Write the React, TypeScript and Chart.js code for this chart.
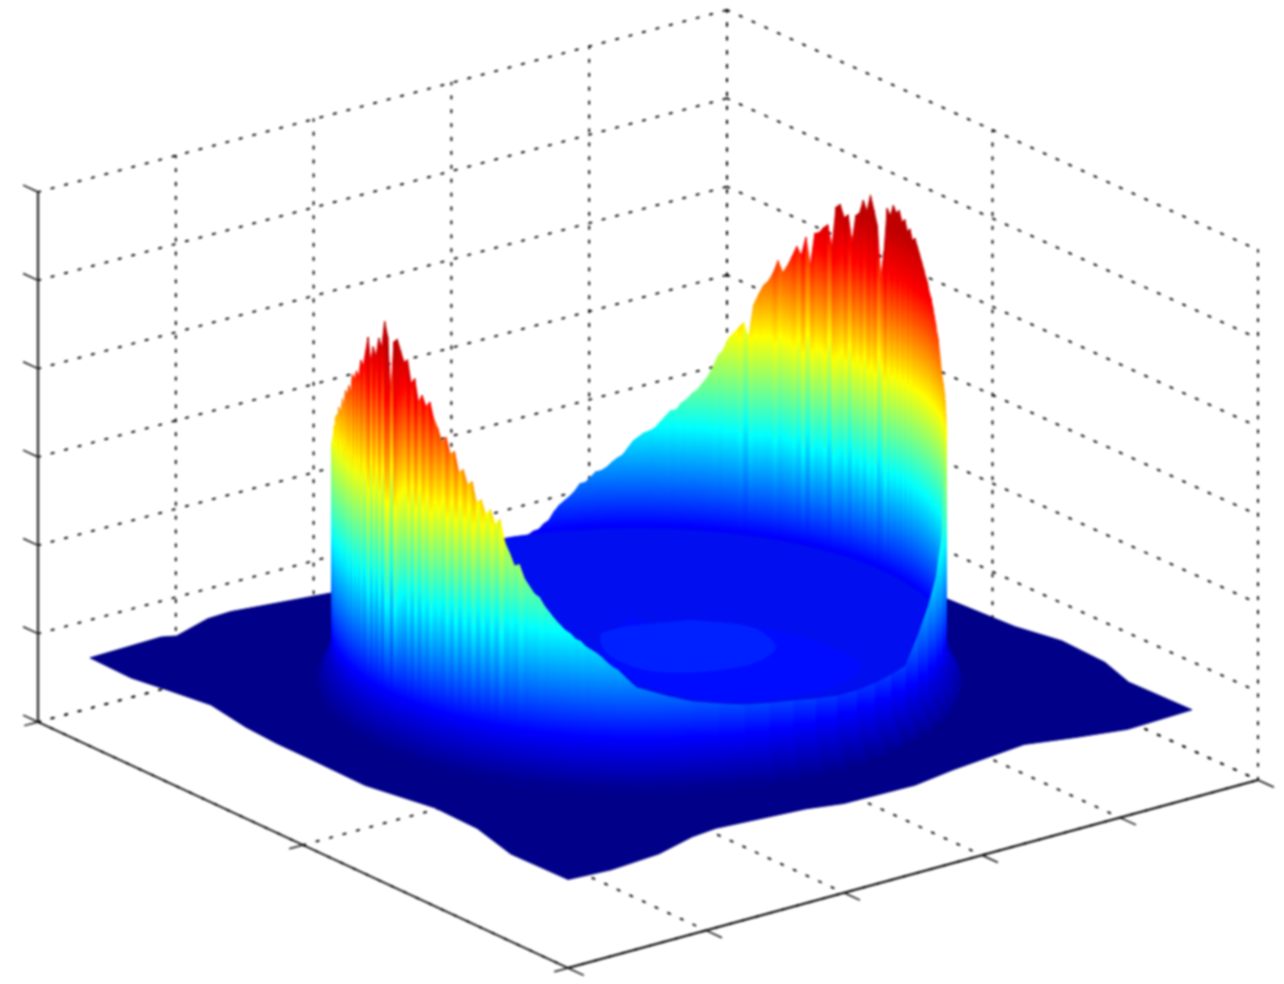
import React, { useEffect, useRef } from "react";
import { Chart, registerables } from "chart.js";

Chart.register(...registerables);

// ---- axis ticks of the 3-D box (fractions of each axis)
const xTicks = [0, 0.5, 1];
const yTicks = [0, 0.2, 0.4, 0.6, 0.8, 1];
const zTicks = [0, 1 / 6, 2 / 6, 3 / 6, 4 / 6, 5 / 6, 1];

// ---- plate outline: position along the edge and its rise above the flat plate
const plateLeftFrontS = [0, 0.086, 0.165, 0.253, 0.326, 0.391, 0.456, 0.575, 0.722, 0.81, 0.88, 1];
const plateLeftFrontRise = [0, -1, 4, 9, 3, 1, 1, 0, 10, 9, -1, 0];
const plateFrontRightS = [0.069, 0.146, 0.199, 0.237, 0.381, 0.442, 0.556, 0.617, 0.731, 0.814, 0.897, 1];
const plateFrontRightRise = [-2, 1, 9, 11, 6, 1, 0, 5, 11, 4, -2, 0];
const plateBackRightS = [0.868, 0.818, 0.728, 0.63, 0.487, 0];
const plateBackRightRise = [-1, 8, 10, 3, 0, 0];
const plateBackLeftS = [0.391, 0.226, 0.189, 0.139, 0.114];
const plateBackLeftRise = [1, 9, 8, -1, 2];

// ---- crest height of the ring, one value per degree from 0 to 120 (back wall)
const backWallHeights = [
  250, 245, 255, 262, 268, 272, 276, 280, 283, 286, 292, 300, 308, 318, 322, 330, 336, 343, 350, 354,
  362, 366, 372, 378, 384, 390, 396, 392, 402, 398, 408, 404, 414, 410, 416, 404, 410, 365, 337, 388,
  402, 416, 398, 408, 394, 390, 362, 388, 384, 396, 392, 351, 372, 368, 362, 360, 327, 354, 335, 343,
  332, 322, 314, 325, 312, 303, 298, 288, 277, 243, 258, 252, 246, 240, 228, 222, 210, 200, 193, 186,
  182, 176, 172, 165, 164, 158, 152, 146, 143, 141, 137, 133, 126, 119, 116, 112, 107, 104, 103, 98,
  93, 92, 85, 80, 76, 72, 66, 58, 55, 50, 49, 46, 44, 43, 42, 42, 42, 40, 40, 38, 38,
];
// every 5 degrees from 120 to 180 (hidden behind the left lobe)
const backLeftHeights = [38, 38, 40, 45, 50, 60, 70, 85, 100, 120, 150, 190, 235];
// one value per degree from 180 to 290 (left lobe, seen from outside)
const leftLobeHeights = [
  235, 238, 243, 240, 250, 254, 258, 268, 263, 280, 285, 279, 296, 290, 297, 310, 303, 322, 318, 330,
  325, 345, 342, 352, 348, 366, 362, 378, 394, 372, 388, 380, 400, 392, 420, 406, 352, 404, 408, 398,
  388, 392, 370, 376, 354, 362, 352, 358, 342, 334, 322, 328, 312, 316, 296, 300, 286, 290, 270, 274,
  260, 266, 252, 258, 236, 226, 214, 216, 203, 196, 189, 186, 178, 172, 166, 161, 156, 153, 148, 146,
  141, 138, 135, 131, 126, 122, 119, 114, 109, 104, 99, 95, 91, 87, 83, 78, 74, 70, 65, 62,
  60, 57, 54, 51, 48, 45, 42, 38, 34, 30, 26,
];
// every 5 degrees from 260 to 360 (low front rim)
const frontRimHeights = [110, 105, 101, 93, 86, 82, 78, 76, 74, 71, 68, 67, 67, 68, 69, 90, 110, 130, 160, 210, 250];

// ---- floor of the dish inside the ring
const dishLevel = 46;
const dishAngles = [0, 30, 60, 90, 120, 150, 180, 210, 240, 270, 300, 330];
const dishReach = [1, 1, 1, 1, 1, 1, 1, 1, 1, 1, 1, 1];
const patchAngles = [101, 15, 22, 1, 340, 323, 296, 271, 233];
const patchReach = [0.167, 0.135, 0.27, 0.49, 0.765, 0.79, 0.67, 0.445, 0.21];
const patchValue = 54;
const coreAngles = [40, 10, 345, 320, 280, 240, 170];
const coreReach = [0.22, 0.38, 0.46, 0.44, 0.34, 0.2, 0.12];
const coreValue = 62;

const PLATE_X0 = 0.05, PLATE_X1 = 0.952, PLATE_Y0 = 0.037, PLATE_Y1 = 0.9413, PLATE_Z = 0.1315;
const RING_X = 0.49, RING_Y = 0.495, RING_R = 0.353, RING_TURN = 52.5;
const LOBE_TOP = 410;
const WALL_TOP = 395;
const DISH_COLOR = "rgb(0,14,240)";
const DEG = Math.PI / 180;

type P = { x: number; y: number };
const project = (x: number, y: number, z: number): P => ({
  x: 38 + 530 * x + (689 + x) * y,
  y: 722 + 246 * x - (182 + 6 * x) * y - 530 * z,
});
const ring = (phi: number, reach: number, h: number): P =>
  project(
    RING_X + reach * RING_R * Math.cos((phi + RING_TURN) * DEG),
    RING_Y + reach * RING_R * Math.sin((phi + RING_TURN) * DEG),
    PLATE_Z + h / 530,
  );

const JET: [number, string, number][] = [
  [0, "rgb(0,0,143)", 0],
  [0.125, "rgb(0,0,255)", 0],
  [0.375, "rgb(0,255,255)", 1],
  [0.625, "rgb(255,255,0)", 1],
  [0.875, "rgb(255,0,0)", 1],
  [1, "rgb(190,0,0)", 1],
];
const jetAt = (t: number) => {
  const u = Math.max(0, Math.min(1, t));
  const r = Math.min(4 * u - 1.5, 4.5 - 4 * u);
  const g = Math.min(4 * u - 0.5, 3.5 - 4 * u);
  const b = Math.min(4 * u + 0.5, 2.5 - 4 * u);
  const c = (v: number) => Math.round(255 * Math.max(0, Math.min(1, v)));
  return `rgb(${c(r)},${c(g)},${c(b)})`;
};

// paint running through the jet map between the y of height 0 and the y of the top height;
// "shift" moves the upper colours only, so a spike leaves a streak that fades out at the foot
const jetPaint = (yLow: number, yTop: number, shift = 0) => {
  let cached: CanvasGradient | null = null;
  return (c: any) => {
    if (cached) return cached;
    const s = c.chart.scales.y;
    const ready = s && Number.isFinite(s.getPixelForValue(yLow));
    const a = ready ? s.getPixelForValue(yLow) : yLow;
    const b = ready ? s.getPixelForValue(yTop) : yTop;
    const g = c.chart.ctx.createLinearGradient(0, a, 0, b);
    const relative = shift / (yTop - yLow);
    JET.forEach(([t, col, moves]) => g.addColorStop(Math.max(0, Math.min(1, t + moves * relative)), col));
    cached = g;
    return g;
  };
};

function buildDatasets() {
  const sets: any[] = [];
  const line = (pts: P[], color: string, width: number, dash: number[] = []) =>
    sets.push({
      data: pts, showLine: true, fill: false, borderColor: color, borderWidth: width, borderDash: dash,
      pointRadius: 0, tension: 0, borderCapStyle: dash.length ? "round" : "butt",
    });
  const poly = (pts: P[], paint: any, tension = 0) =>
    sets.push({
      data: [...pts, pts[0]], showLine: true, fill: "shape", backgroundColor: paint, borderColor: paint,
      borderWidth: 0.9, pointRadius: 0, tension, borderJoinStyle: "round",
    });

  // ---- dotted box grid
  const DOTS = [2.4, 11.5];
  const GRID = "#000";
  zTicks.forEach((z) => {
    line([project(0, 0, z), project(0, 1, z)], GRID, 1.9, DOTS);
    line([project(0, 1, z), project(1, 1, z)], GRID, 1.9, DOTS);
  });
  yTicks.forEach((y) => {
    line([project(0, y, 0), project(0, y, 1)], GRID, 1.9, DOTS);
    line([project(0, y, 0), project(1, y, 0)], GRID, 1.9, DOTS);
  });
  xTicks.forEach((x) => {
    line([project(x, 1, 0), project(x, 1, 1)], GRID, 1.9, DOTS);
    line([project(x, 0, 0), project(x, 1, 0)], GRID, 1.9, DOTS);
  });

  // ---- solid axes and ticks
  line([project(0, 0, 0), project(0, 0, 1)], "#333", 2.4);
  line([project(0, 0, 0), project(1, 0, 0)], "#000", 1.9);
  line([project(1, 0, 0), project(1, 1, 0)], "#000", 1.9);
  zTicks.forEach((z) => line([project(0, 0, z), project(-0.028, 0, z)], "#111", 1.5));
  xTicks.forEach((x) => line([project(x, 0, 0), project(x, -0.02, 0)], "#111", 1.5));
  yTicks.forEach((y) => line([project(1, y, 0), project(1.03, y, 0)], "#111", 1.5));

  // ---- plate
  const outline: P[] = [];
  plateLeftFrontS.forEach((s, i) =>
    outline.push(project(PLATE_X0 + s * (PLATE_X1 - PLATE_X0), PLATE_Y0, PLATE_Z + plateLeftFrontRise[i] / 530)));
  plateFrontRightS.forEach((s, i) =>
    outline.push(project(PLATE_X1, PLATE_Y0 + s * (PLATE_Y1 - PLATE_Y0), PLATE_Z + plateFrontRightRise[i] / 530)));
  plateBackRightS.forEach((s, i) =>
    outline.push(project(PLATE_X0 + s * (PLATE_X1 - PLATE_X0), PLATE_Y1, PLATE_Z + plateBackRightRise[i] / 530)));
  plateBackLeftS.forEach((s, i) =>
    outline.push(project(PLATE_X0, PLATE_Y0 + s * (PLATE_Y1 - PLATE_Y0), PLATE_Z + plateBackLeftRise[i] / 530)));
  poly(outline, jetAt(0.008));

  // ---- the blue skirt at the foot of the ring
  const skirt: number[] = [];
  for (let a = 0; a < 360; a += 5) skirt.push(a);
  skirt.forEach((a) => {
    const b = a + 5;
    const y0 = ring(a, 1, 0).y;
    poly(
      [ring(a, 1.05, 0), ring(b, 1.05, 0), ring(b, 1, 32), ring(a, 1, 32)],
      jetPaint(y0 + 3, y0 + 3 - LOBE_TOP),
    );
  });

  // ---- dish floor, then the inner faces of the wall: upright columns, far ones first
  poly(dishAngles.flatMap((a, i) => {
    const b = dishAngles[(i + 1) % dishAngles.length];
    const span = b > a ? b - a : b + 360 - a;
    return [0, 0.2, 0.4, 0.6, 0.8].map((f) => ring(a + span * f, dishReach[i], dishLevel));
  }), DISH_COLOR);

  type S = { phi: number; next: number; h: number; hn: number; spike: number };
  const spikeOf = (arr: number[], i: number) => {
    const l = arr[Math.max(0, i - 1)];
    const r = arr[Math.min(arr.length - 1, i + 1)];
    return arr[i] - (l + r) / 2;
  };
  const inner: S[] = [];
  backWallHeights.slice(0, -1).forEach((h, i) =>
    inner.push({ phi: i, next: i + 1, h, hn: backWallHeights[i + 1], spike: spikeOf(backWallHeights, i) }));
  backLeftHeights.slice(0, -1).forEach((h, i) =>
    inner.push({ phi: 120 + 5 * i, next: 125 + 5 * i, h, hn: backLeftHeights[i + 1], spike: 0 }));
  inner.sort((a, b) => Math.sin(b.phi * DEG) - Math.sin(a.phi * DEG));
  inner.forEach((s) => {
    if (s.h <= dishLevel && s.hn <= dishLevel) return;
    const y0 = ring(s.phi, 1, 0).y;
    const shift = Math.max(-14, Math.min(14, 0.4 * s.spike));
    poly(
      [ring(s.phi, 1, dishLevel), ring(s.next, 1, dishLevel), ring(s.next, 1, s.hn), ring(s.phi, 1, s.h)],
      jetPaint(y0, y0 - WALL_TOP, shift),
    );
  });

  // ---- lighter patches on the dish
  poly(patchAngles.map((a, i) => ring(a, patchReach[i], dishLevel)), jetAt(patchValue / WALL_TOP), 0.35);
  poly(coreAngles.map((a, i) => ring(a, coreReach[i], dishLevel)), jetAt(coreValue / WALL_TOP), 0.35);

  // ---- outer faces: the low front rim from the right, then the left lobe
  const rimPhi = (i: number) => 260 + 5 * i;
  const outerFace = (phi: number, next: number, h: number, hn: number, shift: number) => {
    const y0 = ring(phi, 1, 0).y;
    const knee = Math.min(h * 0.6, 30);
    const kneeN = Math.min(hn * 0.6, 30);
    poly(
      [
        ring(phi, 1.05, 0), ring(next, 1.05, 0), ring(next, 1, kneeN), ring(next, 1, hn),
        ring(phi, 1, h), ring(phi, 1, knee),
      ],
      jetPaint(y0, y0 - LOBE_TOP, shift),
    );
  };
  for (let i = frontRimHeights.length - 2; i >= 0; i--) {
    outerFace(rimPhi(i), rimPhi(i + 1), frontRimHeights[i], frontRimHeights[i + 1], 0);
  }
  leftLobeHeights.slice(0, -1).forEach((h, i) =>
    outerFace(180 + i, 181 + i, h, leftLobeHeights[i + 1],
      Math.max(-22, Math.min(22, 0.8 * spikeOf(leftLobeHeights, i)))));

  // Chart.js paints the first dataset last, so the list runs front to back.
  return sets.reverse();
}

export default function App() {
  const ref = useRef<HTMLCanvasElement | null>(null);
  useEffect(() => {
    if (!ref.current) return;
    const chart = new Chart(ref.current, {
      type: "scatter",
      data: { datasets: buildDatasets() },
      options: {
        animation: false,
        responsive: false,
        devicePixelRatio: 1,
        layout: { padding: 0 },
        events: [],
        plugins: { legend: { display: false }, tooltip: { enabled: false }, title: { display: false } },
        scales: {
          x: { type: "linear", min: 0, max: 1284, display: false },
          y: { type: "linear", min: 0, max: 984, reverse: true, display: false },
        },
      },
    } as any);
    return () => chart.destroy();
  }, []);
  return (
    <div style={{ position: "fixed", left: 0, top: 0, width: 1284, height: 984, background: "#fff", overflow: "hidden" }}>
      <canvas ref={ref} width={1284} height={984} style={{ display: "block", filter: "blur(0.8px)" }} />
    </div>
  );
}
